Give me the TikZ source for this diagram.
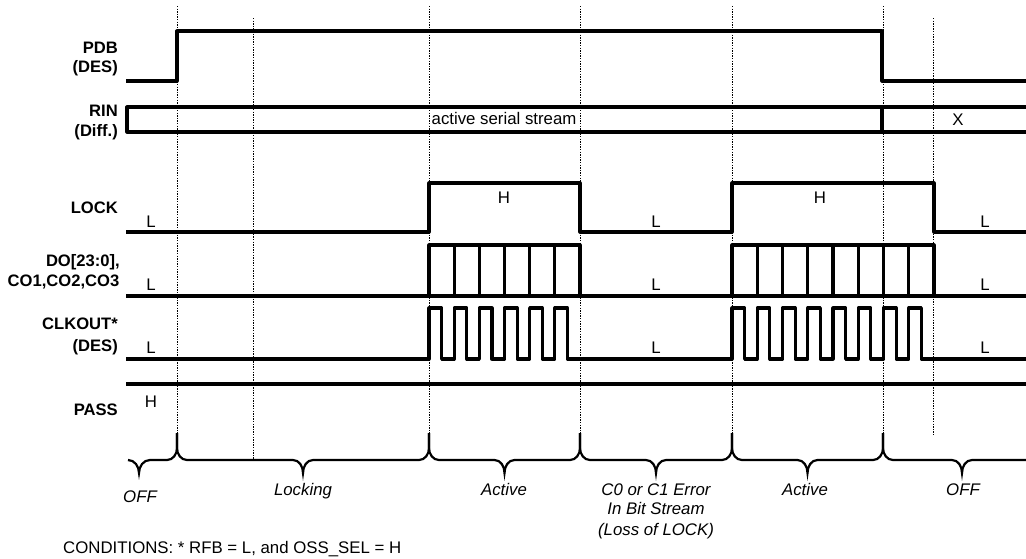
\documentclass[tikz,border=0pt]{standalone}
\usepackage{fontspec}
\setmainfont{Liberation Sans}
\begin{document}
\begin{tikzpicture}[x=1pt,y=-1pt,
  sig/.style={line width=3.2pt, line join=round},
  gridln/.style={line width=1pt, dash pattern=on 1.3pt off 1.3pt},
  lab/.style={font=\fontsize{16.6}{19.5}\selectfont\bfseries, inner sep=0pt, anchor=base east},
  lvl/.style={font=\fontsize{16.8}{19.5}\selectfont, inner sep=0pt, anchor=base},
  ph/.style={font=\fontsize{16.8}{20}\selectfont\itshape, inner sep=0pt, anchor=base},
  brc/.style={line width=2.2pt}]
\useasboundingbox (0,0) rectangle (1026,558);

% dotted time markers
\foreach \x in {177,429,580,732,883} \draw[gridln] (\x,6) -- (\x,433);
\draw[gridln] (253,18) -- (253,460);
\draw[gridln] (933,18) -- (933,435);

% signal names
\node[lab] (pdb1) at (118,53.3) {PDB};
\node[lab] (pdb2) at (118,72.7) {(DES)};
\node[lab] (rin1) at (118,116.7) {RIN};
\node[lab] (rin2) at (118,136) {(Diff.)};
\node[lab] (lock) at (118,213.3) {LOCK};
\node[lab] (do1) at (120,266.7) {DO[23:0],};
\node[lab] (do2) at (119.5,286.7) {CO1,CO2,CO3};
\node[lab] (clk1) at (118,329) {CLKOUT*};
\node[lab] (clk2) at (118,351) {(DES)};
\node[lab] (pass) at (118,415) {PASS};

% PDB
\draw[sig] (126,81) -- (177,81) -- (177,31) -- (882,31) -- (882,81) -- (1026,81);

% RIN bus
\draw[sig] (1026,107) -- (127,107) -- (127,132) -- (1026,132);
\draw[sig] (882,107) -- (882,132);
\node[lvl, anchor=base west] (rinact) at (431.5,124) {active serial stream};
\node[lvl] (rinx) at (958,125) {X};

% LOCK
\draw[sig] (126,232) -- (429,232) -- (429,183) -- (580,183) -- (580,232)
  -- (732,232) -- (732,183) -- (934,183) -- (934,232) -- (1026,232);
\node[lvl] (lockL1) at (151,227) {L};
\node[lvl] (lockH1) at (504,203) {H};
\node[lvl] (lockL2) at (656,227) {L};
\node[lvl] (lockH2) at (820,203) {H};
\node[lvl] (lockL3) at (985,227) {L};

% DO bus
\draw[sig] (126,296) -- (1026,296);
\draw[sig] (429,296) -- (429,245) -- (580,245) -- (580,296);
\draw[sig] (732,296) -- (732,245) -- (934,245) -- (934,296);
\foreach \k in {1,...,5} \draw[sig] ({429+\k*25.17},245) -- ({429+\k*25.17},296);
\foreach \k in {1,...,7} \draw[sig] ({732+\k*25.25},245) -- ({732+\k*25.25},296);
\node[lvl] (doL1) at (151,290) {L};
\node[lvl] (doL2) at (656,290) {L};
\node[lvl] (doL3) at (985,290) {L};

% CLKOUT
\draw[sig] (126,359)
  foreach \k in {0,...,5} { -- ({429+\k*25.17},359) -- ({429+\k*25.17},308) -- ({441.6+\k*25.17},308) -- ({441.6+\k*25.17},359) }
  -- (732,359)
  foreach \k in {0,...,7} { -- ({732+\k*25.25},359) -- ({732+\k*25.25},308) -- ({744.6+\k*25.25},308) -- ({744.6+\k*25.25},359) }
  -- (1026,359);
\node[lvl] (clkL1) at (151,353) {L};
\node[lvl] (clkL2) at (656,353) {L};
\node[lvl] (clkL3) at (985,353) {L};

% PASS
\draw[sig] (126,384) -- (1026,384);
\node[lvl] (passH) at (151,407) {H};

% braces
\draw[brc] (128,460) to[out=0,in=90] (139,473) to[out=90,in=180] (150,460) -- (167,460)
  to[out=0,in=-90] (177,448) -- (177,433);
\foreach \a/\m/\b in {177/303/429, 429/504.5/580, 580/656/732, 732/807.5/883}
  \draw[brc] (\a,433) -- (\a,448) to[out=-90,in=180] ({\a+10},460) -- ({\m-10},460)
    to[out=0,in=90] (\m,473) to[out=90,in=180] ({\m+10},460) -- ({\b-10},460)
    to[out=0,in=-90] (\b,448) -- (\b,433);
\draw[brc] (883,433) -- (883,448) to[out=-90,in=180] (893,460) -- (952,460)
  to[out=0,in=90] (962,473) to[out=90,in=180] (972,460) -- (1026,460);

% phase labels
\node[ph] (off1) at (140,502) {OFF};
\node[ph] (locking) at (303,495) {Locking};
\node[ph] (act1) at (504,495) {Active};
\node[ph] (err1) at (656,495) {C0 or C1 Error};
\node[ph] (err2) at (656,514.5) {In Bit Stream};
\node[ph] (err3) at (656,535) {(Loss of LOCK)};
\node[ph] (act2) at (805,495) {Active};
\node[ph] (off2) at (963,495) {OFF};

\node[lvl, anchor=base west] (cond) at (63,553) {CONDITIONS: * RFB = L, and OSS\_SEL = H};
\end{tikzpicture}
\end{document}
